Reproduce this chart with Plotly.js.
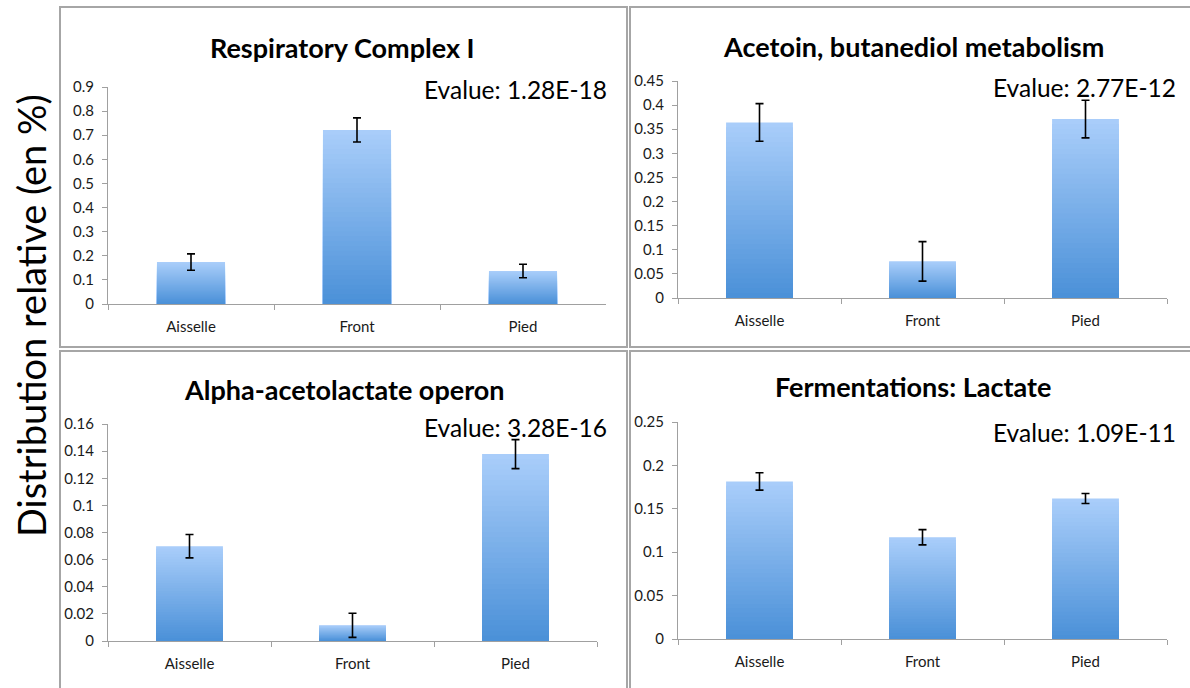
<!DOCTYPE html>
<html>
<head>
<meta charset="utf-8">
<script src="https://cdn.plot.ly/plotly-3.0.1.min.js"></script>
<style>
  html, body { margin: 0; padding: 0; background: #ffffff; }
  #chart { width: 1190px; height: 688px; }
</style>
</head>
<body>
<div id="chart"></div>
<script>
// ---- Data ----
const categories = ['Aisselle', 'Front', 'Pied'];

const titles = [
  'Respiratory Complex I',
  'Acetoin, butanediol metabolism',
  'Alpha-acetolactate operon',
  'Fermentations: Lactate'
];
const evalueLabels = [
  'Evalue: 1.28E-18',
  'Evalue: 2.77E-12',
  'Evalue: 3.28E-16',
  'Evalue: 1.09E-11'
];

const respiratoryValues = [0.174, 0.722, 0.137];
const respiratoryErrors = [0.034, 0.050, 0.028];

const acetoinValues = [0.364, 0.076, 0.371];
const acetoinErrors = [0.039, 0.041, 0.039];

const alphaValues = [0.0699, 0.0116, 0.1378];
const alphaErrors = [0.0086, 0.0089, 0.0107];

const lactateValues = [0.1815, 0.1172, 0.1619];
const lactateErrors = [0.0100, 0.0088, 0.0058];

const yAxisMax = [0.9, 0.45, 0.16, 0.25];
const yAxisStep = [0.1, 0.05, 0.02, 0.05];
const yTitle = 'Distribution relative (en %)';

// ---- Layout helpers (pixel -> paper) ----
const W = 1190, H = 688;
const px = x => x / W;
const py = y => 1 - y / H;

const panels = [
  { vals: respiratoryValues, errs: respiratoryErrors, x: [108, 606], y: [304, 87], title: [343, 47], ev: [609, 89], box: [60, 627, 7, 347] },
  { vals: acetoinValues,     errs: acetoinErrors,     x: [678, 1167], y: [298, 81], title: [913, 46], ev: [1178, 87], box: [630, 1200, 7, 347] },
  { vals: alphaValues,       errs: alphaErrors,       x: [108, 597], y: [641, 424], title: [344, 389], ev: [609, 427], box: [60, 627, 351, 700] },
  { vals: lactateValues,     errs: lactateErrors,     x: [678, 1167], y: [639, 422], title: [913, 386], ev: [1178, 432], box: [630, 1200, 351, 700] }
];

const FONT = 'Lato, "Open Sans", sans-serif';
const topColor = [170, 206, 250];
const bottomColor = [74, 144, 216];
const N = 36;
const mix = t => 'rgb(' + topColor.map((c, i) => Math.round(bottomColor[i] + t * (c - bottomColor[i]))).join(',') + ')';

const traces = [];
const layout = {
  width: W, height: H,
  margin: { l: 0, r: 0, t: 0, b: 0 },
  paper_bgcolor: '#ffffff',
  plot_bgcolor: 'rgba(0,0,0,0)',
  barmode: 'overlay',
  showlegend: false,
  annotations: [],
  shapes: [],
  font: { family: FONT, color: '#111' }
};

panels.forEach((p, i) => {
  const n = i + 1;
  const xa = n === 1 ? 'x' : 'x' + n;
  const ya = n === 1 ? 'y' : 'y' + n;
  const xk = n === 1 ? 'xaxis' : 'xaxis' + n;
  const yk = n === 1 ? 'yaxis' : 'yaxis' + n;

  // gradient bars: overlaid layers, each from the same data values
  for (let k = 0; k < N; k++) {
    const frac = 1 - k / N;
    traces.push({
      type: 'bar', x: categories, y: p.vals.map(v => v * frac),
      xaxis: xa, yaxis: ya, width: 0.41,
      marker: { color: mix(1 - (k + 0.5) / N), line: { width: 0 } },
      hoverinfo: 'skip'
    });
  }
  // error bars on top
  traces.push({
    type: 'scatter', mode: 'markers', x: categories, y: p.vals,
    xaxis: xa, yaxis: ya,
    marker: { size: 1, color: 'rgba(0,0,0,0)' },
    error_y: { type: 'data', array: p.errs, visible: true, color: '#000', thickness: 1.6, width: 4 },
    hoverinfo: 'skip'
  });

  layout[xk] = {
    domain: [px(p.x[0]), px(p.x[1])],
    anchor: ya, type: 'category', range: [-0.5, 2.5],
    showline: true, linecolor: '#a0a0a0', linewidth: 1,
    ticks: 'outside', ticklen: 5, tickcolor: '#a0a0a0', tickson: 'boundaries',
    showgrid: false, zeroline: false, fixedrange: true,
    tickfont: { family: FONT, size: 15, color: '#1a1a1a' },
    ticklabelstandoff: 9
  };
  layout[yk] = {
    domain: [py(p.y[0]), py(p.y[1])],
    anchor: xa, range: [0, yAxisMax[i]], dtick: yAxisStep[i], tick0: 0,
    showline: true, linecolor: '#a0a0a0', linewidth: 1,
    ticks: 'outside', ticklen: 5, tickcolor: '#a0a0a0',
    showgrid: false, zeroline: false, fixedrange: true,
    tickfont: { family: FONT, size: 15, color: '#1a1a1a' },
    ticklabelstandoff: 5
  };

  layout.annotations.push({
    xref: 'paper', yref: 'paper', x: px(p.title[0]), y: py(p.title[1]),
    xanchor: 'center', yanchor: 'middle', showarrow: false,
    text: '<b>' + titles[i] + '</b>',
    font: { family: FONT, size: 27, color: '#000' }
  });
  layout.annotations.push({
    xref: 'paper', yref: 'paper', x: px(p.ev[0]), y: py(p.ev[1]),
    xanchor: 'right', yanchor: 'middle', showarrow: false,
    text: evalueLabels[i],
    font: { family: FONT, size: 24.5, color: '#000' }
  });
  layout.shapes.push({
    type: 'rect', xref: 'paper', yref: 'paper',
    x0: px(p.box[0]), x1: px(p.box[1]), y0: py(p.box[3]), y1: py(p.box[2]),
    line: { color: '#a6a6a6', width: 2 }, fillcolor: 'rgba(0,0,0,0)', layer: 'below'
  });
});

layout.annotations.push({
  xref: 'paper', yref: 'paper', x: px(31), y: py(316),
  xanchor: 'center', yanchor: 'middle', showarrow: false, textangle: -90,
  text: yTitle,
  font: { family: FONT, size: 38, color: '#000' }
});

Plotly.newPlot('chart', traces, layout, { staticPlot: true, displayModeBar: false });
</script>
</body>
</html>
